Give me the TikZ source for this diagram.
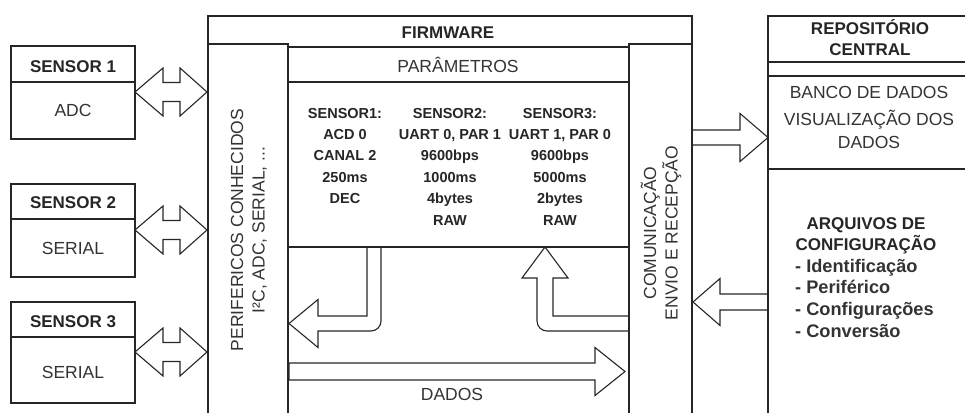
\documentclass[tikz,border=0pt]{standalone}
\usepackage{fontspec}
\setmainfont{Liberation Sans}
\begin{document}
\begin{tikzpicture}[x=1pt,y=-1pt,
  ln/.style={draw=black!85, line width=1.1pt, line join=miter},
  rg/.style={font=\fontsize{17.5}{21}\selectfont, inner sep=0pt, anchor=base, text=black!80},
  bd/.style={font=\fontsize{17}{21}\selectfont\bfseries, inner sep=0pt, anchor=base, text=black!85},
  lst/.style={font=\fontsize{18.2}{21}\selectfont\bfseries, inner sep=0pt, anchor=base west, text=black!80},
  prm/.style={font=\fontsize{14.5}{21.4}\selectfont\bfseries, inner sep=0pt, align=center, anchor=north, text=black!85},
  rot/.style={font=\fontsize{17.5}{21.5}\selectfont, inner sep=0pt, align=center, rotate=90, text=black!80},
  ]
\useasboundingbox (0,0) rectangle (965,412);

% ---------- sensors ----------
\draw[ln] (11,46) rectangle (135,139) (11,82) -- (135,82);
\draw[ln] (11,184) rectangle (135,277) (11,219) -- (135,219);
\draw[ln] (11,302) rectangle (135,403) (11,337) -- (135,337);
\node[bd] (s1) at (73,72) {SENSOR 1};
\node[rg] (s1t) at (73,116) {ADC};
\node[bd] (s2) at (73,208) {SENSOR 2};
\node[rg] (s2t) at (73,254) {SERIAL};
\node[bd] (s3) at (73,327) {SENSOR 3};
\node[rg] (s3t) at (73,378) {SERIAL};

% double arrows
\foreach \cy in {92,230,352}{
  \draw[ln] (135,\cy) -- (163,\cy-24) -- (163,\cy-9.5) -- (180,\cy-9.5) -- (180,\cy-24)
    -- (207,\cy) -- (180,\cy+24) -- (180,\cy+9.5) -- (163,\cy+9.5) -- (163,\cy+24) -- cycle;
}

% ---------- firmware ----------
\draw[ln] (208,413) -- (208,16) -- (692,16) -- (692,413);
\draw[ln] (208,44) -- (288,44) -- (288,413);
\draw[ln] (692,44) -- (629,44) -- (629,413);
\draw[ln] (288,47) rectangle (629,247) (288,82) -- (629,82);
\node[bd] (fw) at (448,39) {FIRMWARE};
\node[rg] (par) at (458,72) {PARÂMETROS};

\node[prm] (c1) at (345,107.8) {SENSOR1:\\ACD 0\\CANAL 2\\250ms\\DEC};
\node[prm] (c2) at (450,107.8) {SENSOR2:\\UART 0, PAR 1\\9600bps\\1000ms\\4bytes\\RAW};
\node[prm] (c3) at (560,107.8) {SENSOR3:\\UART 1, PAR 0\\9600bps\\5000ms\\2bytes\\RAW};

\node[rot] (per) at (249,230) {PERIFERICOS CONHECIDOS\\I²C, ADC, SERIAL, ...};
\node[rot] (com) at (661,233) {COMUNICAÇÃO\\ENVIO E RECEPÇÃO};

% bent arrow down-left
\draw[ln] (367,247) -- (367,316) -- (318,316) -- (318,299.5) -- (289,323.5) -- (318,347.5)
  -- (318,331) -- (371,331) .. controls (376.5,331) and (381,326.5) .. (381,321) -- (381,247);
% bent arrow up
\draw[ln] (629,316) -- (553,316) -- (553,278) -- (568,278) -- (545,247) -- (522,278)
  -- (537,278) -- (537,321) .. controls (537,326.5) and (541.5,331) .. (547,331) -- (629,331);
% DADOS arrow
\draw[ln] (289,363) -- (595,363) -- (595,347.5) -- (625,371.5) -- (595,395.5) -- (595,380) -- (289,380) -- cycle;
\node[rg] (dados) at (452,400) {DADOS};

% ---------- repository ----------
\draw[ln] (966,16) -- (768,16) -- (768,413);
\draw[ln] (768,62) -- (966,62) (768,76) -- (966,76) (768,169) -- (966,169);
\node[bd] (rep1) at (870,35) {REPOSITÓRIO};
\node[bd] (rep2) at (870,56) {CENTRAL};
\node[rg] (bd1) at (869,98.3) {BANCO DE DADOS};
\node[rg] (vis1) at (869,125) {VISUALIZAÇÃO DOS};
\node[rg] (vis2) at (869,148) {DADOS};
\node[bd] (arq1) at (866,229) {ARQUIVOS DE};
\node[bd] (arq2) at (866,250) {CONFIGURAÇÃO};
\node[lst] (l1) at (795,272) {- Identificação};
\node[lst] (l2) at (795,293) {- Periférico};
\node[lst] (l3) at (795,315) {- Configurações};
\node[lst] (l4) at (795,337) {- Conversão};

% arrows between firmware and repository
\draw[ln] (692,130) -- (740,130) -- (740,113.5) -- (768,137.5) -- (740,161.5) -- (740,145) -- (692,145);
\draw[ln] (768,294) -- (720,294) -- (720,278.5) -- (693,302) -- (720,325.5) -- (720,310) -- (768,310);
\end{tikzpicture}
\end{document}
